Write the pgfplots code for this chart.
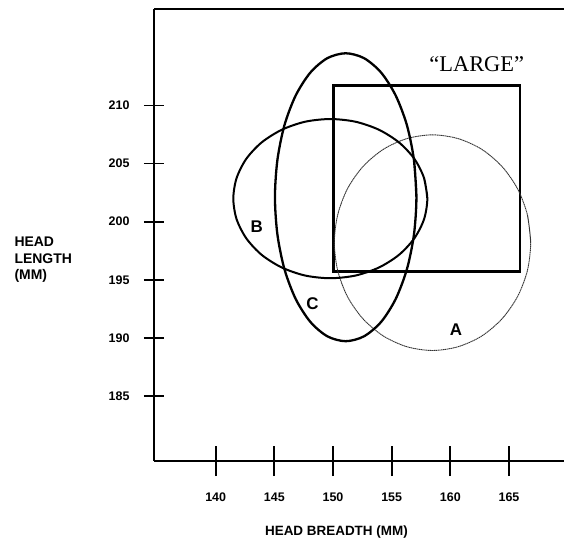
\documentclass[border=0pt]{standalone}
\usepackage{fontspec}
\setmainfont{Liberation Sans}
\newfontfamily\timesfont{Liberation Serif}
\usepackage{pgfplots}
\pgfplotsset{compat=1.18}

% ellipse outlines at 15 degree steps
\pgfplotstableread{
x y
158.04 201.98
157.76 203.75
156.93 205.41
155.62 206.82
153.91 207.91
151.91 208.60
149.77 208.83
147.63 208.60
145.64 207.91
143.92 206.82
142.61 205.41
141.78 203.75
141.50 201.98
141.78 200.21
142.61 198.56
143.92 197.14
145.64 196.05
147.63 195.36
149.77 195.13
151.91 195.36
153.91 196.05
155.62 197.14
156.93 198.56
157.76 200.21
158.04 201.98
157.76 203.75
}\groupB

\pgfplotstableread{
x y
157.11 202.10
156.90 205.31
156.30 208.30
155.34 210.86
154.10 212.83
152.64 214.07
151.08 214.49
149.52 214.07
148.07 212.83
146.82 210.86
145.86 208.30
145.26 205.31
145.05 202.10
145.26 198.89
145.86 195.91
146.82 193.34
148.07 191.37
149.52 190.13
151.08 189.71
152.64 190.13
154.10 191.37
155.34 193.34
156.30 195.91
156.90 198.89
157.11 202.10
156.90 205.31
}\groupC

\pgfplotstableread{
x y
166.85 198.19
166.57 200.59
165.73 202.83
164.40 204.75
162.67 206.23
160.65 207.15
158.48 207.47
156.31 207.15
154.30 206.23
152.56 204.75
151.23 202.83
150.40 200.59
150.11 198.19
150.40 195.79
151.23 193.55
152.56 191.63
154.30 190.15
156.31 189.23
158.48 188.91
160.65 189.23
162.67 190.15
164.40 191.63
165.73 193.55
166.57 195.79
166.85 198.19
166.57 200.59
}\groupA

\begin{document}
\begin{tikzpicture}
\path[use as bounding box] (0,0) rectangle (564bp,547bp);
\begin{axis}[
    at={(154bp,86bp)}, anchor=south west,
    scale only axis,
    width=410bp, height=452bp,
    xmin=134.74, xmax=169.69,
    ymin=179.4, ymax=218.3,
    axis x line*=box, axis y line*=left,
    axis line style={line width=1.8bp, -},
    xtick={140,145,150,155,160,165},
    ytick={185,190,195,200,205,210},
    xtick pos=bottom, ytick pos=left,
    tick align=center,
    major tick length=20bp,
    tick style={line width=1.8bp, black},
    x tick style={/pgfplots/major tick length=30bp},
    tick label style={font=\bfseries\fontsize{12.5}{14}\selectfont},
    /pgf/number format/assume math mode=true,
    xticklabel style={yshift=-18bp},
    yticklabel style={xshift=-11bp},
    every axis x label/.style={at={(rel axis cs:0.445,0)}, yshift=-71.5bp,
      anchor=center, font=\bfseries\fontsize{13.5}{15}\selectfont},
    every axis y label/.style={at={(rel axis cs:0,0.445)}, xshift=-143bp,
      anchor=west, align=left, font=\bfseries\fontsize{14}{16.5}\selectfont},
    xlabel={HEAD BREADTH (MM)},
    ylabel={HEAD\\LENGTH\\(MM)},
    clip=false,
]
\addplot[no marks, black, line width=2.8bp, line cap=rect] coordinates {
  (150.03,211.7) (165.94,211.7) (165.94,195.7) (150.03,195.7) (150.03,211.7)};
\addplot[no marks, black!80, line width=0.9bp, dash pattern=on 1.4bp off 0.5bp, smooth]
  table {\groupA};
\addplot[no marks, black, line width=2bp, smooth] table {\groupB};
\addplot[no marks, black, line width=2.3bp, smooth] table {\groupC};
\node[font=\bfseries\fontsize{17}{19}\selectfont] at (axis cs:160.49,190.74) {A};
\node[font=\bfseries\fontsize{17}{19}\selectfont] at (axis cs:143.5,199.6) {B};
\node[font=\bfseries\fontsize{17}{19}\selectfont] at (axis cs:148.24,192.9) {C};
\node[font=\timesfont\fontsize{22.5}{24}\selectfont] at (axis cs:162.25,213.58) {“LARGE”};
\end{axis}
\end{tikzpicture}
\end{document}
